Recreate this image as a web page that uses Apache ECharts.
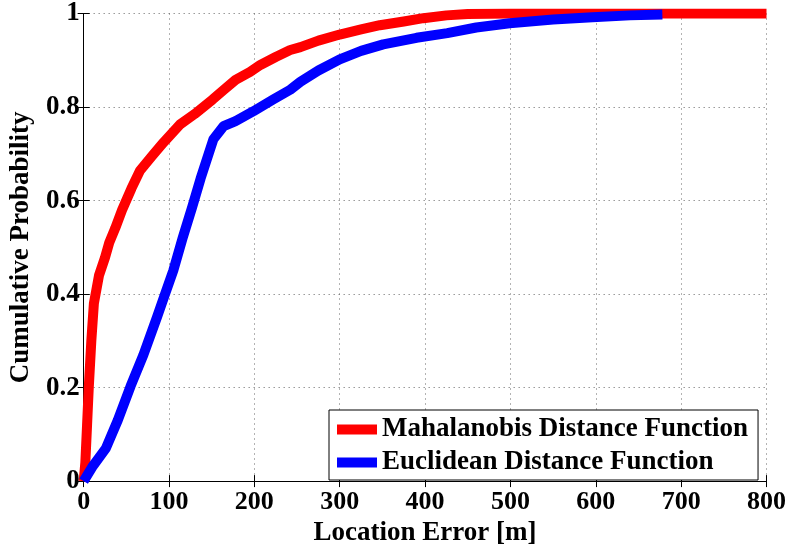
<!DOCTYPE html>
<html>
<head>
<meta charset="utf-8">
<script src="https://cdn.jsdelivr.net/npm/echarts@6/dist/echarts.min.js"></script>
<style>
  html, body { margin: 0; padding: 0; background: #fff; }
  #chart { width: 789px; height: 552px; }
</style>
</head>
<body>
<div id="chart"></div>
<script>
  // CDF of location error: [error m, cumulative probability]
  var mahalanobis = [
    [0, 0], [2, 0.04], [4, 0.12], [6, 0.2], [9, 0.3], [12, 0.38], [18, 0.44],
    [25, 0.478], [30, 0.51], [37, 0.541], [45, 0.58], [56, 0.626], [66, 0.664],
    [80, 0.695], [94, 0.725], [113, 0.763], [130, 0.785], [151, 0.816],
    [165, 0.838], [178, 0.858], [195, 0.875], [207, 0.89], [225, 0.907],
    [242, 0.922], [254, 0.928], [275, 0.942], [300, 0.955], [325, 0.966],
    [347, 0.975], [375, 0.983], [398, 0.99], [425, 0.996], [450, 0.999],
    [500, 1], [800, 1]
  ];
  var euclidean = [
    [0, 0], [10, 0.03], [26, 0.07], [40, 0.13], [55, 0.203], [70, 0.27],
    [86, 0.351], [94, 0.393], [105, 0.45], [116, 0.52], [127, 0.585],
    [137, 0.647], [152, 0.731], [164, 0.759], [178, 0.77], [199, 0.791],
    [222, 0.816], [242, 0.837], [254, 0.854], [275, 0.878], [300, 0.902],
    [325, 0.92], [351, 0.934], [390, 0.948], [426, 0.958], [460, 0.97],
    [499, 0.979], [550, 0.987], [596, 0.992], [640, 0.996], [678, 0.998]
  ];
  var seriesNames = ['Mahalanobis Distance Function', 'Euclidean Distance Function'];

  var font = 'Liberation Serif';
  var chart = echarts.init(document.getElementById('chart'));

  var boxAxis = {
    axisLine: { show: true, lineStyle: { color: '#000', width: 1 } },
    axisTick: { show: true, inside: true, length: 6, lineStyle: { color: '#000' } },
    axisLabel: { show: false },
    splitLine: { show: false }
  };

  chart.setOption({
    animation: false,
    color: ['#ff0000', '#0000ff'],
    grid: { left: 83, right: 22, top: 13, bottom: 66 },
    legend: {
      data: seriesNames,
      orient: 'vertical',
      left: 329,
      top: 410,
      padding: [6, 10, 4, 8],
      itemGap: 6,
      itemWidth: 40,
      itemHeight: 10,
      icon: 'rect',
      backgroundColor: '#fff',
      borderColor: '#000',
      borderWidth: 1,
      borderRadius: 0,
      textStyle: { fontFamily: font, fontWeight: 'bold', fontSize: 27, color: '#000' }
    },
    xAxis: [
      {
        type: 'value', min: 0, max: 800, interval: 100,
        name: 'Location Error [m]', nameLocation: 'middle', nameGap: 33,
        nameTextStyle: { fontFamily: font, fontWeight: 'bold', fontSize: 27, color: '#000' },
        axisLine: { show: true, onZero: false, lineStyle: { color: '#000', width: 1 } },
        axisTick: { show: true, inside: true, length: 6, lineStyle: { color: '#000' } },
        axisLabel: { fontFamily: font, fontWeight: 'bold', fontSize: 26, color: '#000', margin: 8 },
        splitLine: { show: true, lineStyle: { color: '#666', type: [1, 4], width: 1 } }
      },
      Object.assign({ type: 'value', min: 0, max: 800, interval: 100, position: 'top' }, boxAxis)
    ],
    yAxis: [
      {
        type: 'value', min: 0, max: 1, interval: 0.2,
        name: 'Cumulative Probability', nameLocation: 'middle', nameGap: 38,
        nameTextStyle: { fontFamily: font, fontWeight: 'bold', fontSize: 27, color: '#000' },
        axisLine: { show: true, lineStyle: { color: '#000', width: 1 } },
        axisTick: { show: true, inside: true, length: 6, lineStyle: { color: '#000' } },
        axisLabel: { fontFamily: font, fontWeight: 'bold', fontSize: 27, color: '#000', margin: 4 },
        splitLine: { show: true, lineStyle: { color: '#666', type: [1, 4], width: 1 } }
      },
      Object.assign({ type: 'value', min: 0, max: 1, interval: 0.2, position: 'right' }, boxAxis)
    ],
    series: [
      {
        name: seriesNames[0], type: 'line', data: mahalanobis,
        showSymbol: false, symbol: 'none', clip: true,
        lineStyle: { width: 10, color: '#ff0000', cap: 'butt', join: 'round' }
      },
      {
        name: seriesNames[1], type: 'line', data: euclidean,
        showSymbol: false, symbol: 'none', clip: true,
        lineStyle: { width: 10, color: '#0000ff', cap: 'butt', join: 'round' }
      }
    ]
  });
</script>
</body>
</html>
